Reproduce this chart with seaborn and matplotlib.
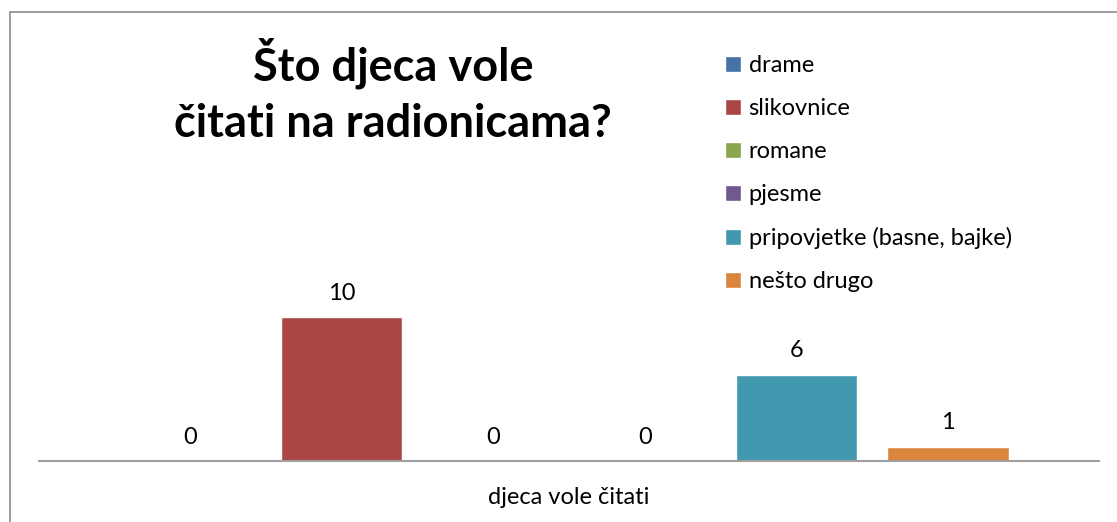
import pandas as pd
import matplotlib.pyplot as plt
import seaborn as sns
from matplotlib.patches import Rectangle

# Data
category = "djeca vole čitati"
series = ["drame", "slikovnice", "romane", "pjesme",
          "pripovjetke (basne, bajke)", "nešto drugo"]
counts = [0, 10, 0, 0, 6, 1]
colors = ["#4572A7", "#AA4643", "#89A54E", "#71588F", "#4198AF", "#DB843D"]

sns.set_theme(style="white")
plt.rcParams['font.family'] = ['Lato', 'DejaVu Sans']
plt.rcParams['text.color'] = 'black'
plt.rcParams['xtick.color'] = 'black'

df = pd.DataFrame({"kat": [category] * len(series), "vrsta": series, "broj": counts})

fig = plt.figure(figsize=(11.17, 5.22), dpi=100)
ax = fig.add_axes([39 / 1117, 1 - 461 / 522, 1060 / 1117, 432 / 522])

sns.barplot(data=df, x="kat", y="broj", hue="vrsta", hue_order=series,
            palette=colors, width=0.858, gap=0.2, saturation=1,
            ax=ax, legend=True)

for cont in ax.containers:
    ax.bar_label(cont, fmt='%g', padding=9.5, fontsize=17, color='black')

ax.set_ylim(0, 30)
ax.set_xlim(-0.5, 0.5)
ax.set_yticks([])
ax.set_ylabel("")
ax.set_xlabel("")
ax.set_xticks([0])
ax.set_xticklabels([category], fontsize=17)
ax.tick_params(axis='x', length=0, pad=18.5)
for side in ['top', 'right', 'left']:
    ax.spines[side].set_visible(False)
ax.spines['bottom'].set_color('#A0A0A0')
ax.spines['bottom'].set_linewidth(1.5)

handles, labels = ax.get_legend_handles_labels()
ax.get_legend().remove()
fig.legend(handles, labels, loc='upper left',
           bbox_to_anchor=(716 / 1117, 1 - 46 / 522),
           frameon=False, fontsize=17, handlelength=0.64, handleheight=0.64,
           handletextpad=0.34, labelspacing=0.93, borderaxespad=0)

fig.text(393 / 1117, 1 - 91 / 522, "Što djeca vole\nčitati na radionicama?",
         ha='center', va='center', fontsize=32.5, fontweight='bold',
         linespacing=1.42)

# outer chart border
fig.patches.append(Rectangle((10 / 1117, -0.1), 1.2, 1 - 12 / 522 + 0.1,
                             transform=fig.transFigure, fill=False,
                             edgecolor='#8C8C8C', linewidth=1.2))

fig.savefig("out.png", dpi=100)
